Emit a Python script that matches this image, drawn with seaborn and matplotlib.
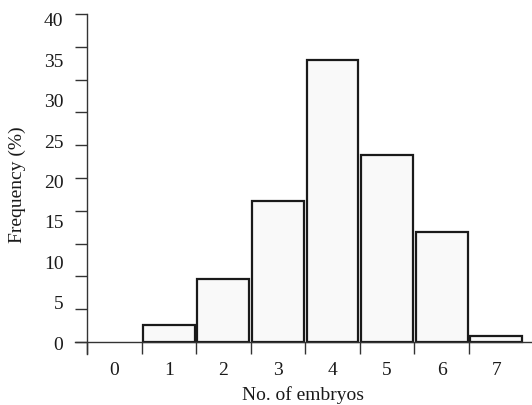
import numpy as np
import pandas as pd
import matplotlib
matplotlib.use("Agg")
import matplotlib.pyplot as plt
import seaborn as sns

# Distribution of embryo counts
embryos = ["0", "1", "2", "3", "4", "5", "6", "7"]
frequency = [0.0, 2.1, 7.8, 17.4, 34.9, 23.1, 13.6, 0.7]
y_tick_labels = [0, 5, 10, 15, 20, 25, 30, 35, 40]

sns.set_style("white")
plt.rcParams["font.family"] = ["Liberation Serif", "DejaVu Serif"]

df = pd.DataFrame({"embryos": embryos, "frequency": frequency})

fig = plt.figure(figsize=(5.32, 4.06), dpi=100)
ax = fig.add_axes([75 / 532, 51 / 406, 457 / 532, 340 / 406])

sns.barplot(data=df, x="embryos", y="frequency", order=embryos, ax=ax,
            color="#f9f9f9", edgecolor="#1a1a1a", linewidth=1.6,
            width=0.95, saturation=1)

# empty classes get no outline
for patch in ax.patches:
    if patch.get_height() == 0:
        patch.set_visible(False)

n = len(embryos)
ax.set_xlim(-0.5 - 12 / 54.5, n - 0.5 + 8.5 / 54.5)
ax.set_ylim(-12 / 8.08, 40.6)

# spines crossing at the first class boundary and at zero
for side in ("top", "right"):
    ax.spines[side].set_visible(False)
ax.spines["left"].set_position(("data", -0.5))
ax.spines["bottom"].set_position(("data", 0))
for side in ("left", "bottom"):
    ax.spines[side].set_color("#333333")
    ax.spines[side].set_linewidth(1.0)

# tick marks at class boundaries, labels at class centres
ax.xaxis.remove_overlapping_locs = False
ax.yaxis.remove_overlapping_locs = False
boundaries = np.arange(n) - 0.5
ax.set_xticks(boundaries, labels=[""] * len(boundaries))
ax.set_xticks(np.arange(n), labels=embryos, minor=True)
ax.set_yticks(np.linspace(0, 40.6, 11), labels=[""] * 11)
ax.set_yticks(y_tick_labels, labels=[str(v) for v in y_tick_labels], minor=True)

ax.tick_params(which="major", direction="out", length=8.6, width=1.0,
               color="#333333", left=True, bottom=True)
ax.tick_params(which="minor", length=0, labelsize=14, colors="#1a1a1a")
ax.tick_params(axis="x", which="minor", pad=14)
ax.tick_params(axis="y", which="minor", pad=17)

ax.set_xlabel("No. of embryos", fontsize=14, color="#1a1a1a", labelpad=5)
ax.set_ylabel("Frequency (%)", fontsize=14, color="#1a1a1a", labelpad=13)
ax.grid(False)

fig.savefig("out.png", dpi=100)
